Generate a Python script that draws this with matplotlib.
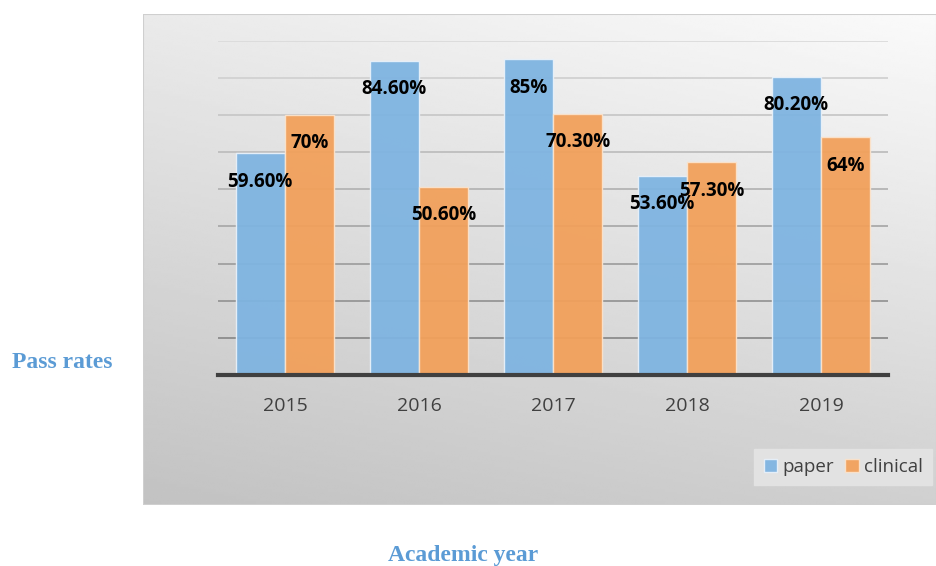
import numpy as np
import matplotlib.pyplot as plt
from matplotlib.patches import Rectangle

years = ['2015', '2016', '2017', '2018', '2019']
paper = [59.6, 84.6, 85.0, 53.6, 80.2]
clinical = [70.0, 50.6, 70.3, 57.3, 64.0]
paper_labels = ['59.60%', '84.60%', '85%', '53.60%', '80.20%']
clinical_labels = ['70%', '50.60%', '70.30%', '57.30%', '64%']

BLUE = '#7EB4E1'
ORANGE = '#F2A05A'
TXT = '#404040'
TITLE_BLUE = '#5B9BD5'

fig = plt.figure(figsize=(9.37, 5.66), dpi=100)
fig.patch.set_facecolor('white')

# gray gradient panel behind the chart
bx, by, bw, bh = 143 / 937, 1 - 505 / 566, 1 - 143 / 937, (505 - 14) / 566
bg = fig.add_axes([bx, by, bw, bh])
gx = np.linspace(0, 1, 200)
gy = np.linspace(0, 1, 200)
X, Y = np.meshgrid(gx, gy)
tl, tr, bl, br = 234, 250, 194, 208
grad = (tl * (1 - X) * Y + tr * X * Y + bl * (1 - X) * (1 - Y) + br * X * (1 - Y)) / 255
bg.imshow(grad, cmap='gray', vmin=0, vmax=1, extent=[0, 1, 0, 1], origin='lower',
          aspect='auto', interpolation='bilinear')
bg.add_patch(Rectangle((0, 0), 1, 1, transform=bg.transAxes, fill=False,
                       edgecolor='#cfcfcf', linewidth=1.5))
bg.set_xlim(0, 1)
bg.set_ylim(0, 1)
bg.axis('off')

ax = fig.add_axes([218 / 937, 1 - 375 / 566, 670 / 937, (375 - 40.5) / 566])
ax.patch.set_alpha(0)

x = np.arange(len(years))
w = 0.365
off = 0.185

# gridlines, darker towards the bottom like the reference
levels = np.arange(10, 91, 10)
for lv in levels:
    t = (lv - 10) / 80
    c = 0.55 + 0.31 * t
    ax.axhline(lv, color=(c, c, c), linewidth=1.3, zorder=0)

b1 = ax.bar(x - off, paper, w, color=BLUE, edgecolor='#e8f1fa', linewidth=1,
            alpha=0.94, label='paper', zorder=2)
b2 = ax.bar(x + off, clinical, w, color=ORANGE, edgecolor='#fbe3cc', linewidth=1,
            alpha=0.94, label='clinical', zorder=2)

for xs, vals, labs in [(x - off, paper, paper_labels), (x + off, clinical, clinical_labels)]:
    for xi, v, lab in zip(xs, vals, labs):
        ax.annotate(lab, xy=(xi, v), xytext=(0, -20.5), textcoords='offset points',
                    ha='center', va='center', fontsize=13.5, fontweight='bold',
                    family='Open Sans', color='black', zorder=5)

ax.set_xlim(-0.5, len(years) - 0.5)
ax.set_ylim(0, 90)
ax.set_yticks([])
ax.set_xticks(x)
ax.set_xticklabels(years, fontsize=14, color=TXT, family='Open Sans')
ax.tick_params(axis='x', length=0, pad=16)
for s in ['top', 'right', 'left']:
    ax.spines[s].set_visible(False)
ax.spines['bottom'].set_color('#404040')
ax.spines['bottom'].set_linewidth(3)
ax.spines['bottom'].set_zorder(4)

leg = fig.legend(handles=[b1, b2], labels=['paper', 'clinical'], loc='center',
                 bbox_to_anchor=(843.5 / 937, 1 - 467 / 566), ncol=2, frameon=True,
                 fancybox=False, handlelength=0.7, handleheight=0.7, handletextpad=0.3,
                 columnspacing=0.6, borderpad=0.5, borderaxespad=0.3,
                 prop={'family': 'Open Sans', 'size': 13.5})
leg.get_frame().set_facecolor('#e2e2e2')
leg.get_frame().set_edgecolor('#e2e2e2')
leg.get_frame().set_alpha(1)
for t in leg.get_texts():
    t.set_color(TXT)

fig.text(62 / 937, 1 - 363 / 566, 'Pass rates', ha='center', va='center',
         family='Liberation Serif', fontweight='bold', fontsize=17, color=TITLE_BLUE)
fig.text(463 / 937, 1 - 556 / 566, 'Academic year', ha='center', va='center',
         family='Liberation Serif', fontweight='bold', fontsize=17, color=TITLE_BLUE)

fig.savefig('out.png', dpi=100)
